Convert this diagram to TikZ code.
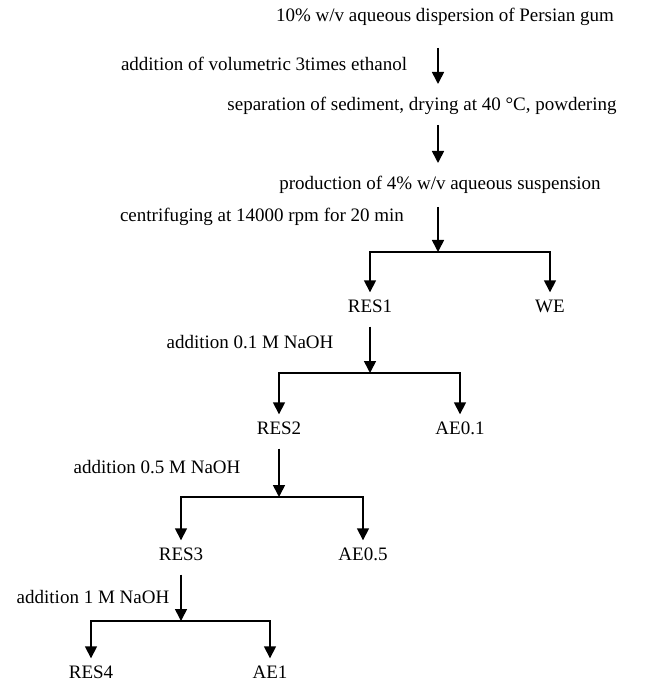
\documentclass[tikz,border=0pt]{standalone}
\usepackage{fontspec}
\setmainfont{Liberation Serif}
\usetikzlibrary{arrows.meta}

\begin{document}
\begin{tikzpicture}[x=1pt,y=1pt,line join=miter,
  every node/.style={inner sep=1pt,font=\fontsize{19}{21}\selectfont},
  frac/.style={text height=13pt,text depth=4pt},
  flow/.style={-{Triangle[length=12pt,width=12pt]},line width=1.6pt}]
  \useasboundingbox (0,0) rectangle (659,-684);
  \def\ax{438}
  % preparation steps
  \node (t1) at (445,-17) {10\% w/v aqueous dispersion of Persian gum};
  \node (t2) at (422,-106) {separation of sediment, drying at 40 °C, powdering};
  \node (t3) at (440,-185) {production of 4\% w/v aqueous suspension};
  \node (l1) at (264,-64) {addition of volumetric 3times ethanol};
  \node (l2) at (262,-217) {centrifuging at 14000 rpm for 20 min};
  \coordinate (a1) at (\ax,-48);
  \coordinate (b1) at (\ax,-84);
  \coordinate (a2) at (\ax,-125);
  \coordinate (b2) at (\ax,-163);
  \coordinate (a3) at (\ax,-207);
  \draw[flow] (a1) -- (b1);
  \draw[flow] (a2) -- (b2);
  % fractions
  \node[frac] (res1) at (370,-308) {RES1};
  \node[frac] (we)   at (550,-308) {WE};
  \node[frac] (res2) at (279,-430) {RES2};
  \node[frac] (ae01) at (460,-430) {AE0.1};
  \node[frac] (res3) at (181,-556) {RES3};
  \node[frac] (ae05) at (363,-556) {AE0.5};
  \node[frac] (res4) at (91,-674) {RES4};
  \node[frac] (ae1)  at (270,-674) {AE1};
  \node (l3) at (250,-342) {addition 0.1 M NaOH};
  \node (l4) at (157,-467) {addition 0.5 M NaOH};
  \node (l5) at (93,-597) {addition 1 M NaOH};
  \coordinate (j0) at (\ax,-252);
  \coordinate (j1) at (370,-373);
  \coordinate (j2) at (279,-497);
  \coordinate (j3) at (181,-621);
  \draw[flow] (a3) -- (j0);
  \draw[flow,shorten <=9pt] (res1.south) -- (j1);
  \draw[flow,shorten <=9pt] (res2.south) -- (j2);
  \draw[flow,shorten <=9pt] (res3.south) -- (j3);
  \foreach \j/\l/\r in {j0/res1/we,j1/res2/ae01,j2/res3/ae05,j3/res4/ae1} {
    \draw[flow,shorten >=6pt] (\j) -| (\l.north);
    \draw[flow,shorten >=6pt] (\j) -| (\r.north);
  }
\end{tikzpicture}
\end{document}
